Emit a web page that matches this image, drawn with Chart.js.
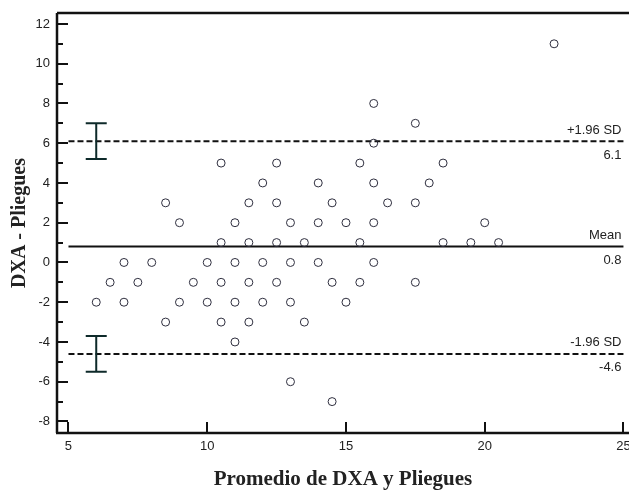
<!DOCTYPE html>
<html>
<head>
<meta charset="utf-8">
<script src="https://cdn.jsdelivr.net/npm/chart.js@4.4.1/dist/chart.umd.min.js"></script>
<style>
  html, body { margin: 0; padding: 0; background: #fff; }
  #wrap { width: 629px; height: 490px; }
</style>
</head>
<body>
<div id="wrap"><canvas id="blandAltman"></canvas></div>
<script>
// promedio (x) y diferencia (y) de cada sujeto
const avgValues = [
  22.5,
  16,
  17.5,
  16,
  10.5, 12.5, 15.5, 18.5,
  12, 14, 16, 18,
  8.5, 11.5, 12.5, 14.5, 16.5, 17.5,
  9, 11, 13, 14, 15, 16, 20,
  10.5, 11.5, 12.5, 13.5, 15.5, 18.5, 19.5, 20.5,
  7, 8, 10, 11, 12, 13, 14, 16,
  6.5, 7.5, 9.5, 10.5, 11.5, 12.5, 14.5, 15.5, 17.5,
  6, 7, 9, 10, 11, 12, 13, 15,
  8.5, 10.5, 11.5, 13.5,
  11,
  13,
  14.5
];
const diffValues = [
  11,
  8,
  7,
  6,
  5, 5, 5, 5,
  4, 4, 4, 4,
  3, 3, 3, 3, 3, 3,
  2, 2, 2, 2, 2, 2, 2,
  1, 1, 1, 1, 1, 1, 1, 1,
  0, 0, 0, 0, 0, 0, 0, 0,
  -1, -1, -1, -1, -1, -1, -1, -1, -1,
  -2, -2, -2, -2, -2, -2, -2, -2,
  -3, -3, -3, -3,
  -4,
  -6,
  -7
];

// lineas de acuerdo
const meanDiff = 0.8;
const upperLimit = 6.1;
const lowerLimit = -4.6;
const lineStartX = 5;
const lineEndX = 25;
// intervalos de confianza de los limites
const ciX = 6;
const upperCI = [5.2, 7.0];
const lowerCI = [-5.5, -3.7];

// ejes
const xTickValues = [5, 10, 15, 20, 25];
const yTickValues = [-8, -6, -4, -2, 0, 2, 4, 6, 8, 10, 12];
const yMinorTicks = [-7, -5, -3, -1, 1, 3, 5, 7, 9, 11];
const xRange = [4.586, 25.2];
const yRange = [-8.58, 12.55];

const lineLabels = [
  { value: upperLimit, above: '+1.96 SD', below: '6.1' },
  { value: meanDiff, above: 'Mean', below: '0.8' },
  { value: lowerLimit, above: '-1.96 SD', below: '-4.6' }
];

const ink = '#111';

// ejes, marcas y barras de error dibujadas a mano
const framePlugin = {
  id: 'frame',
  afterDatasetsDraw(chart) {
    const { ctx, chartArea: a, scales: { x, y } } = chart;
    ctx.save();
    ctx.lineCap = 'butt';

    // barras de error
    ctx.strokeStyle = '#0e2a2a';
    ctx.lineWidth = 2;
    [upperCI, lowerCI].forEach(ci => {
      const px = x.getPixelForValue(ciX);
      const top = y.getPixelForValue(ci[1]);
      const bot = y.getPixelForValue(ci[0]);
      ctx.beginPath();
      ctx.moveTo(px, top); ctx.lineTo(px, bot);
      ctx.moveTo(px - 10.5, top); ctx.lineTo(px + 10.5, top);
      ctx.moveTo(px - 10.5, bot); ctx.lineTo(px + 10.5, bot);
      ctx.stroke();
    });

    // marco: superior, izquierdo, inferior
    ctx.strokeStyle = ink;
    ctx.lineWidth = 2.5;
    ctx.beginPath();
    ctx.moveTo(a.left, a.top); ctx.lineTo(a.right, a.top);
    ctx.moveTo(a.left, a.top); ctx.lineTo(a.left, a.bottom);
    ctx.moveTo(a.left - 1, a.bottom); ctx.lineTo(a.right, a.bottom);
    ctx.stroke();

    // marcas hacia dentro
    ctx.lineWidth = 2;
    ctx.beginPath();
    yTickValues.forEach(v => {
      const py = Math.round(y.getPixelForValue(v));
      ctx.moveTo(a.left, py); ctx.lineTo(a.left + 11, py);
    });
    yMinorTicks.forEach(v => {
      const py = Math.round(y.getPixelForValue(v));
      ctx.moveTo(a.left, py); ctx.lineTo(a.left + 6, py);
    });
    xTickValues.forEach(v => {
      const px = Math.round(x.getPixelForValue(v));
      ctx.moveTo(px, a.bottom); ctx.lineTo(px, a.bottom - 11);
    });
    ctx.stroke();

    // etiquetas de las lineas
    ctx.fillStyle = '#222';
    ctx.font = '13px "Liberation Sans", Arial, sans-serif';
    ctx.textAlign = 'right';
    ctx.textBaseline = 'middle';
    const lx = x.getPixelForValue(lineEndX) - 2;
    lineLabels.forEach(l => {
      const py = y.getPixelForValue(l.value);
      ctx.fillText(l.above, lx, py - 11);
      ctx.fillText(l.below, lx, py + 14);
    });
    ctx.restore();
  }
};

const hLine = (v, dash) => ({
  type: 'line',
  data: [{ x: lineStartX, y: v }, { x: lineEndX, y: v }],
  borderColor: ink,
  borderWidth: 2,
  borderDash: dash,
  pointRadius: 0,
  fill: false,
  order: 2
});

new Chart(document.getElementById('blandAltman'), {
  type: 'scatter',
  data: {
    datasets: [
      {
        label: 'Sujetos',
        data: avgValues.map((v, i) => ({ x: v, y: diffValues[i] })),
        pointStyle: 'circle',
        pointRadius: 4,
        pointBorderWidth: 1,
        pointBorderColor: '#2e2e3e',
        pointBackgroundColor: 'rgba(255,255,255,0)',
        order: 1
      },
      hLine(upperLimit, [6, 3]),
      hLine(meanDiff, []),
      hLine(lowerLimit, [6, 3])
    ]
  },
  options: {
    responsive: true,
    maintainAspectRatio: false,
    animation: false,
    layout: { autoPadding: false, padding: { top: 13, right: 0, left: 0, bottom: 0 } },
    plugins: {
      legend: { display: false },
      tooltip: { enabled: false }
    },
    scales: {
      x: {
        type: 'linear',
        min: xRange[0],
        max: xRange[1],
        grid: { display: false, drawTicks: false },
        border: { display: false },
        afterBuildTicks: s => { s.ticks = xTickValues.map(v => ({ value: v })); },
        afterFit: s => { s.height = 57; s.paddingLeft = 0; s.paddingRight = 0; },
        ticks: {
          padding: 6,
          maxRotation: 0,
          autoSkip: false,
          color: '#222',
          font: { family: '"Liberation Sans", Arial, sans-serif', size: 13 }
        },
        title: {
          display: true,
          text: 'Promedio de DXA y Pliegues',
          color: '#222',
          padding: { top: 0, bottom: 0 },
          font: { family: '"Liberation Serif", "Times New Roman", serif', size: 21, weight: 'bold', lineHeight: 1 }
        }
      },
      y: {
        type: 'linear',
        min: yRange[0],
        max: yRange[1],
        grid: { display: false, drawTicks: false },
        border: { display: false },
        afterBuildTicks: s => { s.ticks = yTickValues.map(v => ({ value: v })); },
        afterFit: s => { s.width = 57; s.paddingTop = 0; s.paddingBottom = 0; },
        ticks: {
          padding: 7,
          autoSkip: false,
          color: '#222',
          font: { family: '"Liberation Sans", Arial, sans-serif', size: 13 }
        },
        title: {
          display: true,
          text: 'DXA - Pliegues',
          color: '#222',
          padding: { top: 10, bottom: 0 },
          font: { family: '"Liberation Serif", "Times New Roman", serif', size: 20, weight: 'bold', lineHeight: 1 }
        }
      }
    }
  },
  plugins: [framePlugin]
});
</script>
</body>
</html>
